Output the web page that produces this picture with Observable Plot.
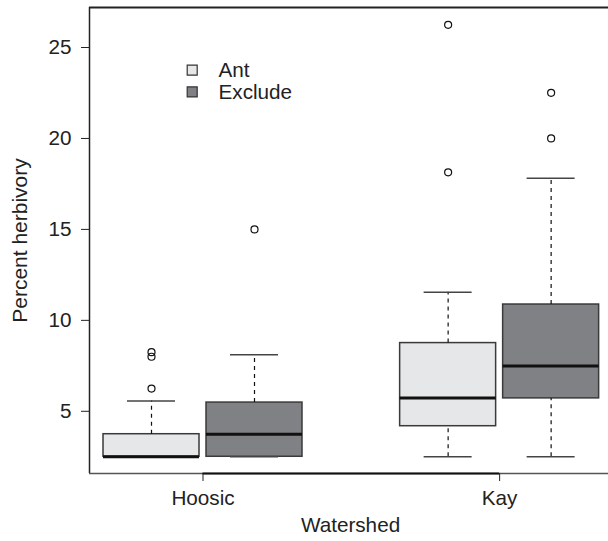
<!DOCTYPE html>
<html>
<head>
<meta charset="utf-8">
<script src="https://cdn.jsdelivr.net/npm/d3@7"></script>
<script src="https://cdn.jsdelivr.net/npm/@observablehq/plot@0.6"></script>
<style>
  html, body { margin: 0; padding: 0; background: #fff; }
</style>
</head>
<body>
<div id="chart"></div>
<script>
// ---- Data ----
const watersheds = ["Hoosic", "Kay"];
const treatments = ["Ant", "Exclude"];
// one entry per box, order: Hoosic-Ant, Hoosic-Exclude, Kay-Ant, Kay-Exclude
const boxWatershed = ["Hoosic", "Hoosic", "Kay", "Kay"];
const boxTreatment = ["Ant", "Exclude", "Ant", "Exclude"];
const whiskerLow = [2.5, 2.5, 2.5, 2.5];
const quartile1 = [2.5, 2.5, 4.18, 5.71];
const medians = [2.5, 3.74, 5.73, 7.49];
const quartile3 = [3.74, 5.48, 8.75, 10.87];
const whiskerHigh = [5.57, 8.11, 11.55, 17.81];
const outlierWatershed = ["Hoosic", "Hoosic", "Hoosic", "Hoosic", "Kay", "Kay", "Kay", "Kay"];
const outlierTreatment = ["Ant", "Ant", "Ant", "Exclude", "Ant", "Ant", "Exclude", "Exclude"];
const outlierValues = [6.25, 8.0, 8.25, 15.0, 18.14, 26.25, 20.0, 22.51];
const yTicks = [5, 10, 15, 20, 25];
const yLabel = "Percent herbivory";
const xLabel = "Watershed";

// ---- Layout ----
const groupGap = 2.88;      // distance between watershed groups (in box units)
const halfBox = 0.466;      // half box width
const halfCap = 0.233;      // half whisker-cap width
const fs = 20.7;            // font size
const pos = (w, t) => 1 + treatments.indexOf(t) + watersheds.indexOf(w) * groupGap;
const groupMid = watersheds.map(w => (pos(w, treatments[0]) + pos(w, treatments[treatments.length - 1])) / 2);
const fills = {Ant: "#e6e7e8", Exclude: "#808184"};

const boxes = boxWatershed.map((w, i) => ({
  w, t: boxTreatment[i], p: pos(w, boxTreatment[i]),
  lo: whiskerLow[i], q1: quartile1[i], med: medians[i], q3: quartile3[i], hi: whiskerHigh[i]
}));
const outliers = outlierValues.map((v, i) => ({
  p: pos(outlierWatershed[i], outlierTreatment[i]), v
}));

const yDomain = [1.58, 27.2];
const xDomain = [0.398, 5.437];

const plot = Plot.plot({
  width: 608,
  height: 541,
  marginLeft: 89,
  marginRight: 0,
  marginTop: 7,
  marginBottom: 68,
  style: {fontFamily: "'Liberation Sans', Arial, Helvetica, sans-serif", fontSize: fs + "px", color: "#222", background: "#fff"},
  x: {domain: xDomain},
  y: {domain: yDomain},
  marks: [
    // boxes
    Plot.rect(boxes, {x1: d => d.p - halfBox, x2: d => d.p + halfBox, y1: "q1", y2: "q3",
      fill: d => fills[d.t], stroke: "#3a3a3a", strokeWidth: 1.5}),
    // whiskers (dashed)
    Plot.ruleX(boxes, {x: "p", y1: "q3", y2: "hi", stroke: "#111", strokeWidth: 1.2, strokeDasharray: "4,4"}),
    Plot.ruleX(boxes, {x: "p", y1: "lo", y2: "q1", stroke: "#111", strokeWidth: 1.2, strokeDasharray: "4,4"}),
    // caps
    Plot.ruleY(boxes, {y: "hi", x1: d => d.p - halfCap, x2: d => d.p + halfCap, stroke: "#444", strokeWidth: 1.5}),
    Plot.ruleY(boxes, {y: "lo", x1: d => d.p - halfCap, x2: d => d.p + halfCap, stroke: "#444", strokeWidth: 1.5}),
    // medians
    Plot.ruleY(boxes, {y: "med", x1: d => d.p - halfBox, x2: d => d.p + halfBox, stroke: "#111", strokeWidth: 3}),
    // outliers
    Plot.dot(outliers, {x: "p", y: "v", r: 3.5, stroke: "#111", fill: "none", strokeWidth: 1.2}),
    // frame (left, top, bottom)
    Plot.ruleX([xDomain[0]], {stroke: "#222", strokeWidth: 1.5}),
    Plot.ruleY([yDomain[1]], {stroke: "#222", strokeWidth: 1.8}),
    Plot.ruleY([yDomain[0]], {stroke: "#555", strokeWidth: 1.5}),
    // x axis line between group ticks
    Plot.ruleY([yDomain[0]], {x1: groupMid[0], x2: groupMid[groupMid.length - 1], stroke: "#111", strokeWidth: 2.2}),
    // axes
    Plot.axisY({ticks: yTicks, tickSize: 8, tickPadding: 10, label: null, fontSize: fs}),
    Plot.axisX({ticks: groupMid, tickFormat: (d, i) => watersheds[i], tickSize: 8, tickPadding: 9, label: null, fontSize: fs}),
    // axis titles
    Plot.text([yLabel], {frameAnchor: "left", rotate: -90, dx: -69, textAnchor: "middle", lineAnchor: "middle", fontSize: 21, fill: "#222"}),
    Plot.text([xLabel], {frameAnchor: "bottom", dy: 51.6, dx: 1.5, textAnchor: "middle", lineAnchor: "middle", fontSize: fs, fill: "#222"}),
    // legend
    ...treatments.map((t, i) => Plot.dot([t], {frameAnchor: "top-left", dx: 102.7, dy: 62.7 + i * 21.7,
      symbol: "square", r: 5.64, fill: fills[t], stroke: "#333", strokeWidth: 1.2})),
    ...treatments.map((t, i) => Plot.text([t], {frameAnchor: "top-left", dx: 129, dy: 63.3 + i * 21.7,
      text: d => d, textAnchor: "start", lineAnchor: "middle", fontSize: fs, fill: "#222"}))
  ]
});
document.getElementById("chart").append(plot);
</script>
</body>
</html>
